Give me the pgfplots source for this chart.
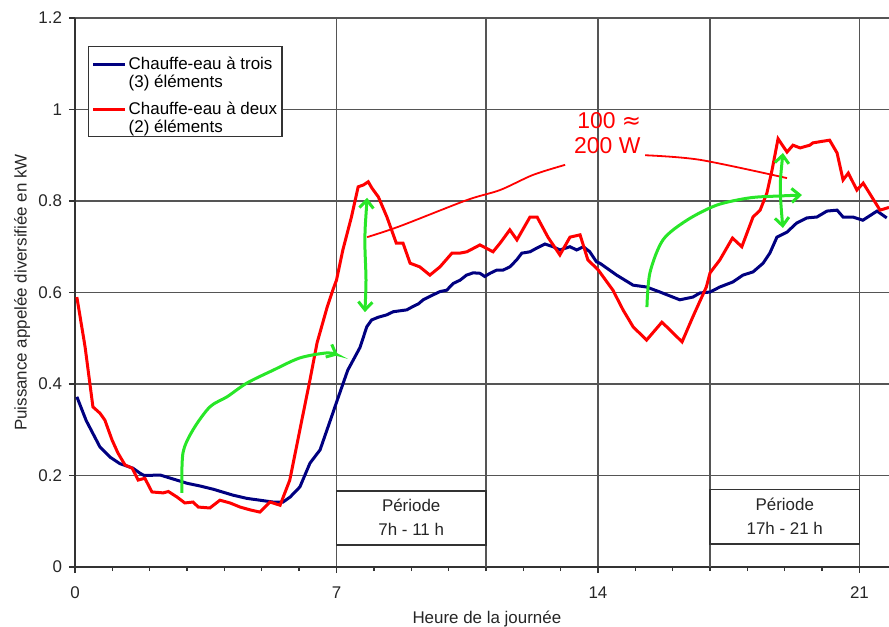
\documentclass[border=0pt]{standalone}
\usepackage{fontspec}
\setmainfont{Liberation Sans}
\newfontfamily\dejavu{DejaVu Sans}
\usepackage{pgfplots}
\pgfplotsset{compat=1.18}
\usetikzlibrary{arrows.meta,calc}
\definecolor{navyc}{RGB}{0,0,128}
\definecolor{gridc}{RGB}{85,85,85}
\definecolor{greenc}{RGB}{40,230,40}
\begin{document}
\begin{tikzpicture}[font=\fontsize{8.5}{9}\selectfont]
\begin{axis}[name=ax, scale only axis, width=407bp, height=274.5bp,
  xmin=0, xmax=21.79, ymin=0, ymax=1.2,
  axis x line=bottom, axis y line=left,
  axis line style={-, black!80, line width=0.9bp},
  xtick={0,7,14,21}, minor x tick num=6,
  ytick={0,0.2,0.4,0.6,0.8,1,1.2}, yticklabels={0,0.2,0.4,0.6,0.8,1,1.2},
  grid=major, major grid style={gridc, line width=0.9bp},
  extra x ticks={11,17}, extra x tick labels={},
  extra x tick style={grid=major, major tick length=0pt},
  tick align=outside, major tick length=3bp, minor tick length=2bp,
  tick style={black!80, line width=0.7bp},
  /pgf/number format/assume math mode=true,
  ticklabel style={font=\fontsize{8.5}{10}\selectfont, text=black!85},
  xticklabel style={yshift=-3.5bp},
  xlabel={Heure de la journée}, ylabel={Puissance appelée diversifiée en kW},
  xlabel style={at={(axis description cs:0.506,0)}, anchor=center, yshift=-26bp, text=black!85},
  ylabel style={at={(axis description cs:-0.0650,0.5)}, anchor=center, text=black!85},
  legend style={at={(axis description cs:0,1)}, anchor=north west, xshift=6.5bp, yshift=-14bp,
    draw=black!80, line width=0.7bp, inner xsep=1.5bp, inner ysep=3bp, row sep=6bp,
    font=\fontsize{8.5}{9}\selectfont, nodes={inner xsep=1bp}},
  legend cell align=left,
  legend image code/.code={\draw[#1] (0bp,2.5bp) -- (16bp,2.5bp);},
]
\addplot[navyc, line width=1.5bp] coordinates {
(0.05,0.372)(0.3,0.32)(0.67,0.262)(0.94,0.240)(1.2,0.226)(1.55,0.216)(1.74,0.205)(1.85,0.200)
(2.28,0.201)(2.6,0.193)(3.0,0.183)(3.35,0.177)(3.7,0.170)(4.23,0.157)(4.6,0.150)(4.95,0.146)
(5.3,0.142)(5.57,0.142)(5.76,0.153)(6.02,0.175)(6.29,0.227)(6.56,0.256)(6.9,0.336)(7.0,0.360)
(7.3,0.430)(7.63,0.480)(7.81,0.525)(7.94,0.540)(8.12,0.546)(8.34,0.551)(8.52,0.558)(8.70,0.560)
(8.88,0.562)(9.06,0.570)(9.19,0.575)(9.32,0.584)(9.59,0.595)(9.77,0.602)(9.95,0.605)(10.13,0.620)
(10.31,0.627)(10.48,0.638)(10.66,0.643)(10.84,0.642)(10.97,0.635)(11.11,0.642)(11.29,0.649)
(11.46,0.649)(11.64,0.656)(11.82,0.671)(11.96,0.686)(12.18,0.689)(12.36,0.697)(12.58,0.706)
(12.80,0.700)(12.98,0.693)(13.25,0.700)(13.43,0.693)(13.61,0.700)(13.78,0.689)(13.96,0.667)
(14.05,0.664)(14.5,0.638)(14.94,0.616)(15.3,0.612)(15.66,0.601)(16.19,0.584)(16.54,0.590)
(16.73,0.599)(17.0,0.601)(17.26,0.612)(17.61,0.623)(17.88,0.638)(18.15,0.645)(18.42,0.664)
(18.6,0.686)(18.79,0.721)(19.06,0.732)(19.32,0.752)(19.59,0.763)(19.86,0.765)(20.13,0.778)
(20.4,0.780)(20.56,0.765)(20.82,0.765)(21.09,0.758)(21.47,0.778)(21.73,0.763)
};
\addlegendentry{\begin{tabular}{@{}l@{}}Chauffe-eau à trois\\(3) éléments\end{tabular}}
\addplot[red, line width=1.5bp] coordinates {
(0.05,0.590)(0.27,0.481)(0.48,0.350)(0.67,0.336)(0.8,0.321)(0.99,0.278)(1.15,0.249)(1.34,0.223)
(1.53,0.216)(1.69,0.190)(1.87,0.194)(2.06,0.164)(2.36,0.162)(2.5,0.165)(2.73,0.153)(2.94,0.140)
(3.16,0.142)(3.3,0.131)(3.61,0.129)(3.88,0.146)(4.15,0.140)(4.42,0.131)(4.68,0.125)(4.95,0.120)
(5.22,0.142)(5.49,0.135)(5.75,0.190)(6.02,0.300)(6.29,0.409)(6.48,0.490)(6.75,0.568)(6.9,0.605)
(7.0,0.627)(7.17,0.693)(7.4,0.765)(7.58,0.831)(7.72,0.835)(7.85,0.842)(7.95,0.828)(8.12,0.809)
(8.35,0.765)(8.6,0.708)(8.78,0.708)(8.97,0.664)(9.23,0.656)(9.5,0.638)(9.77,0.656)(10.09,0.686)
(10.3,0.686)(10.49,0.689)(10.84,0.704)(11.19,0.689)(11.38,0.708)(11.64,0.737)(11.83,0.715)
(12.18,0.765)(12.37,0.765)(12.66,0.721)(12.98,0.682)(13.25,0.721)(13.52,0.726)(13.73,0.671)
(14.0,0.650)(14.4,0.605)(14.67,0.562)(14.94,0.525)(15.3,0.496)(15.71,0.535)(15.93,0.518)
(16.25,0.492)(16.54,0.547)(16.9,0.612)(17.0,0.643)(17.26,0.671)(17.6,0.719)(17.85,0.700)
(18.15,0.765)(18.34,0.780)(18.52,0.817)(18.66,0.868)(18.82,0.936)(19.06,0.907)(19.22,0.922)
(19.41,0.916)(19.67,0.922)(19.75,0.927)(20.2,0.933)(20.4,0.905)(20.56,0.846)(20.7,0.861)
(20.93,0.824)(21.1,0.839)(21.55,0.780)(21.79,0.786)
};
\addlegendentry{\begin{tabular}{@{}l@{}}Chauffe-eau à deux\\(2) éléments\end{tabular}}
% period boxes
\draw[black!80, line width=0.7bp, fill=white] (axis cs:7,0.048) rectangle (axis cs:11,0.166);
\node[align=center, text=black!85, font=\fontsize{8.5}{12}\selectfont] at (axis cs:9,0.108) {Période\\7h - 11 h};
\draw[black!80, line width=0.7bp, fill=white] (axis cs:17,0.050) rectangle (axis cs:21,0.170);
\node[align=center, text=black!85, font=\fontsize{8.5}{12}\selectfont] at (axis cs:19,0.111) {Période\\17h - 21 h};
% hand-drawn annotations
\addplot[red, line width=0.9bp, smooth, forget plot] coordinates {
(7.82,0.721)(8.7,0.745)(10.49,0.802)(11.38,0.824)(12.26,0.857)(13.12,0.879)};
\addplot[red, line width=0.9bp, smooth, forget plot] coordinates {
(15.26,0.900)(16.73,0.890)(19.06,0.850)};
\addplot[greenc, line width=1.5bp, smooth, forget plot, -{Straight Barb[length=4bp,width=7bp]}] coordinates {
(2.86,0.162)(2.89,0.249)(3.16,0.300)(3.61,0.350)(4.07,0.372)(4.6,0.402)(5.3,0.430)(6.02,0.457)(6.75,0.468)(7.04,0.463)};
\addplot[greenc, line width=1.5bp, smooth, forget plot, {Straight Barb[length=4bp,width=7bp]}-{Straight Barb[length=4bp,width=7bp]}] coordinates {
(7.82,0.807)(7.76,0.715)(7.79,0.627)(7.76,0.557)};
\addplot[greenc, line width=1.5bp, smooth, forget plot, -{Straight Barb[length=4bp,width=7bp]}] coordinates {
(15.31,0.568)(15.39,0.643)(15.74,0.715)(16.38,0.758)(17.18,0.791)(18.07,0.807)(18.87,0.811)(19.46,0.813)};
\addplot[greenc, line width=1.5bp, smooth, forget plot, {Straight Barb[length=4bp,width=7bp]}-{Straight Barb[length=4bp,width=7bp]}] coordinates {
(18.95,0.905)(18.88,0.824)(18.95,0.741)};
\node[text=red, font=\fontsize{11.5}{12}\selectfont] at (axis cs:14.3,0.975) {100 {\dejavu ≈}};
\node[text=red, font=\fontsize{11.5}{12}\selectfont] at (axis cs:14.25,0.922) {200 W};
\end{axis}
\pgfresetboundingbox
\path[use as bounding box] ($(ax.south west)+(-37.5bp,-30bp)$) rectangle ($(ax.north east)+(0,9bp)$);
\end{tikzpicture}
\end{document}
